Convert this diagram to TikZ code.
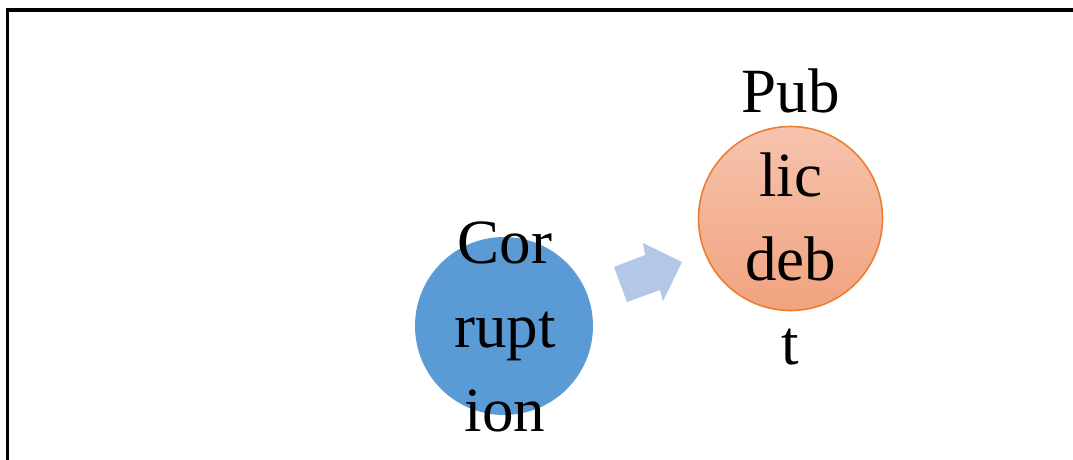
\documentclass[tikz,border=0pt]{standalone}
\usepackage{fontspec}
\setmainfont{Liberation Serif}
\definecolor{corrblue}{HTML}{5B9BD5}
\definecolor{debtfillTop}{HTML}{F6C3AD}
\definecolor{debtfillBot}{HTML}{F1A37F}
\definecolor{debtline}{HTML}{ED7D31}
\definecolor{flowblue}{HTML}{B4C7E7}
\begin{document}
\begin{tikzpicture}[x=1pt,y=-1pt,
  bubble/.style={circle,inner sep=0pt,minimum size=#1},
  bigword/.style={align=center,font=\fontsize{63}{84}\selectfont,inner sep=0pt}]
\useasboundingbox (0,0) rectangle (1073,459);
% frame
\draw[line width=3.5pt] (7.5,470) -- (7.5,10) -- (1080,10);
% bubbles
\node[bubble=178pt,fill=corrblue] (corr) at (504,326) {};
\node[bubble=184pt,top color=debtfillTop,bottom color=debtfillBot,draw=debtline,line width=1.6pt] (debt) at (790.5,218.5) {};
% labels
\node[bigword] (corrtxt) at (505,327) {Cor\\rupt\\ion};
\node[bigword] (debttxt) at (790.5,216.5) {Pub\\lic\\deb\\t};
% block arrow between the bubbles
\fill[flowblue] (614,267) -- (645,255) -- (643,243) -- (682,262) -- (663,301) -- (660,290) -- (627,302) -- cycle;
\end{tikzpicture}
\end{document}
